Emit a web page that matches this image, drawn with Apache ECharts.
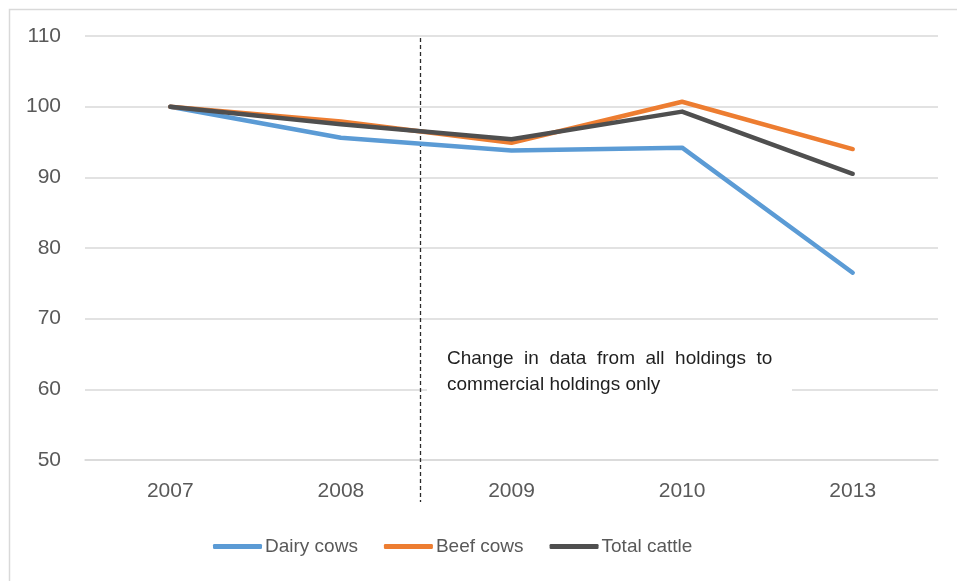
<!DOCTYPE html>
<html>
<head>
<meta charset="utf-8">
<script src="https://cdn.jsdelivr.net/npm/echarts@6/dist/echarts.min.js"></script>
<style>
  html, body { margin: 0; padding: 0; background: #fff; }
  #chart { width: 957px; height: 581px; }
</style>
</head>
<body>
<div id="chart"></div>
<script>
// Cattle numbers indexed to 2007 = 100
const years = ['2007', '2008', '2009', '2010', '2013'];
const dairyCows = [100, 95.6, 93.8, 94.2, 76.5];
const beefCows = [100, 97.9, 94.9, 100.7, 94.0];
const totalCattle = [100, 97.5, 95.4, 99.3, 90.5];

const seriesNames = ['Dairy cows', 'Beef cows', 'Total cattle'];
const seriesColors = ['#5b9bd5', '#ed7d31', '#4f4f4f'];
// justified note: widened word gaps on the first line
const noteText = 'Change  in  data  from  all  holdings  to\ncommercial holdings only';

const FONT = '"Liberation Sans", Arial, sans-serif';
const TEXT = '#595959';

const chart = echarts.init(document.getElementById('chart'), null, { renderer: 'canvas' });

function lineSeries(name, data, color) {
  return {
    name: name,
    type: 'line',
    data: data,
    symbol: 'none',
    z: 3,
    lineStyle: { color: color, width: 4.5, cap: 'round', join: 'round' },
    itemStyle: { color: color }
  };
}

chart.setOption({
  animation: false,
  backgroundColor: '#fff',
  textStyle: { fontFamily: FONT },
  grid: { left: 85, right: 19, top: 36, bottom: 121, containLabel: false },
  xAxis: {
    type: 'category',
    data: years,
    boundaryGap: true,
    axisLine: { show: true, lineStyle: { color: '#d9d9d9', width: 1.5 } },
    axisTick: { show: false },
    axisLabel: { color: TEXT, fontSize: 21, fontFamily: FONT, margin: 21 }
  },
  yAxis: {
    type: 'value',
    min: 50,
    max: 110,
    interval: 10,
    axisLine: { show: false },
    axisTick: { show: false },
    splitLine: { lineStyle: { color: '#d9d9d9', width: 1.5 } },
    axisLabel: { color: TEXT, fontSize: 21, fontFamily: FONT, margin: 24 }
  },
  legend: {
    data: seriesNames,
    left: 208,
    top: 532,
    itemWidth: 49,
    itemHeight: 5,
    itemGap: 26,
    icon: 'roundRect',
    textStyle: { color: TEXT, fontSize: 19, fontFamily: FONT, padding: [0, 0, 0, -2] }
  },
  series: [
    lineSeries(seriesNames[0], dairyCows, seriesColors[0]),
    lineSeries(seriesNames[1], beefCows, seriesColors[1]),
    lineSeries(seriesNames[2], totalCattle, seriesColors[2])
  ],
  graphic: [
    {
      type: 'rect',
      left: 7, top: 7,
      shape: { width: 1000, height: 1000 },
      style: { fill: 'none', stroke: '#d9d9d9', lineWidth: 1.5 },
      silent: true, z: 0
    },
    {
      type: 'rect',
      shape: { x: 427, y: 343, width: 365, height: 52 },
      style: { fill: '#fff' },
      silent: true, z: 1
    },
    {
      type: 'text',
      x: 447, y: 346,
      style: { text: noteText, fill: '#1f1f1f', font: '19px ' + FONT, lineHeight: 26 },
      silent: true, z: 2
    },
    {
      type: 'line',
      shape: { x1: 420.5, y1: 38, x2: 420.5, y2: 502 },
      style: { stroke: '#2b2b2b', lineWidth: 1.3, lineDash: [4, 3] },
      silent: true, z: 2
    }
  ]
});
</script>
</body>
</html>
